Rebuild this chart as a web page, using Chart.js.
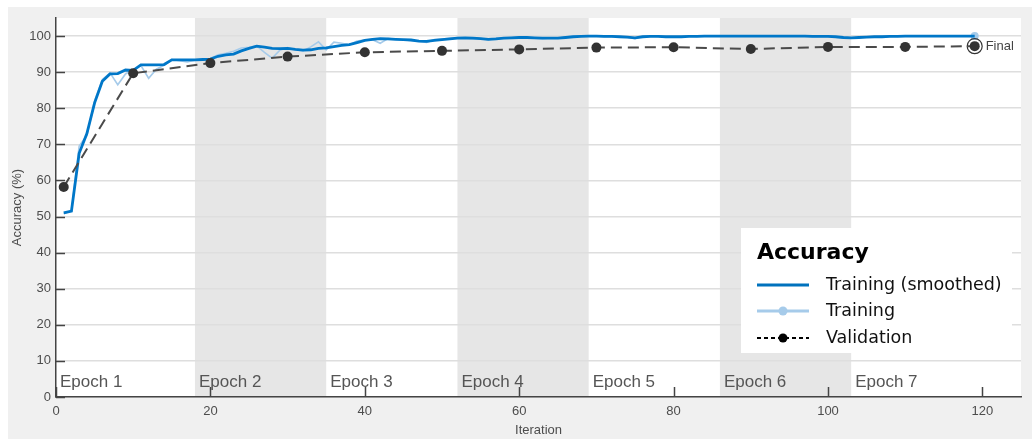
<!DOCTYPE html>
<html>
<head>
<meta charset="utf-8">
<script src="https://cdn.jsdelivr.net/npm/chart.js"></script>
<style>
  html, body { margin: 0; padding: 0; background: #fff; }
  #wrap { width: 1032px; height: 439px; }
</style>
</head>
<body>
<div id="wrap"><canvas id="accChart" width="1032" height="439"></canvas></div>
<script>
// training accuracy, one value per iteration (1..119)
const smoothed = [
  51.0, 51.5, 67.5, 73.0, 81.5, 87.5, 89.5, 89.6, 90.6, 90.5,
  92.0, 92.0, 92.0, 92.1, 93.4, 93.4, 93.4, 93.4, 93.5, 93.6,
  94.4, 94.8, 95.0, 95.9, 96.6, 97.2, 96.9, 96.6, 96.5, 96.6,
  96.3, 96.1, 96.2, 96.6, 96.7, 97.1, 97.4, 97.6, 98.2, 98.8,
  99.1, 99.3, 99.2, 99.1, 99.0, 98.9, 98.6, 98.5, 98.8, 99.0,
  99.2, 99.4, 99.5, 99.4, 99.3, 99.1, 99.2, 99.4, 99.5, 99.6,
  99.6, 99.5, 99.4, 99.4, 99.4, 99.6, 99.8, 99.9, 100, 100,
  99.9, 99.9, 99.8, 99.7, 99.5, 99.8, 99.9, 99.9, 99.8, 99.8,
  99.8, 99.9, 99.9, 100, 100, 100, 100, 100, 100, 100,
  100, 100, 100, 100, 100, 100, 100, 99.9, 99.9, 99.9,
  99.8, 99.6, 99.5, 99.6, 99.7, 99.8, 99.8, 99.9, 99.9, 100,
  100, 100, 100, 100, 100, 100, 100, 100, 100
];
const training = [
  50.8, 51.6, 69.5, 72.5, 82.0, 88.0, 89.8, 86.5, 89.5, 90.7,
  91.8, 88.3, 90.8, 91.9, 93.5, 93.2, 92.8, 93.3, 93.4, 93.8,
  94.8, 95.2, 95.8, 96.7, 96.9, 97.3, 95.5, 93.9, 96.1, 96.8,
  96.2, 95.9, 97.0, 98.4, 96.2, 98.3, 98.0, 97.6, 98.6, 98.9,
  99.0, 98.0, 99.3, 99.2, 98.9, 98.8, 98.6, 98.2, 99.0, 99.2,
  99.4, 99.6, 99.5, 99.2, 99.3, 99.0, 99.4, 99.5, 99.6, 99.7,
  99.6, 99.4, 99.3, 99.5, 99.4, 99.7, 99.9, 100, 100, 100,
  99.8, 99.9, 99.7, 99.6, 99.3, 99.9, 100, 99.9, 99.7, 99.8,
  99.8, 100, 99.9, 100, 100, 100, 100, 100, 100, 100,
  100, 100, 100, 100, 100, 100, 100, 99.8, 99.9, 99.9,
  99.7, 99.5, 99.4, 99.7, 99.8, 99.8, 99.9, 99.9, 100, 100,
  100, 100, 100, 100, 100, 100, 100, 100, 100
];
const iterations = training.map((v, i) => i + 1);

const valIterations = [1, 10, 20, 30, 40, 50, 60, 70, 80, 90, 100, 110, 119];
const validation = [58.2, 89.7, 92.5, 94.3, 95.5, 95.9, 96.3, 96.8, 96.9, 96.4, 97.0, 97.0, 97.2];

const epochLabels = ['Epoch 1', 'Epoch 2', 'Epoch 3', 'Epoch 4', 'Epoch 5', 'Epoch 6', 'Epoch 7'];
const epochStarts = [0, 18, 35, 52, 69, 86, 103];
const epochEnds = [18, 35, 52, 69, 86, 103, 125];

const xTicks = [0, 20, 40, 60, 80, 100, 120];
const yTicks = [0, 10, 20, 30, 40, 50, 60, 70, 80, 90, 100];

const legendItems = ['Training (smoothed)', 'Training', 'Validation'];

const toXY = (xs, ys) => ys.map((y, i) => ({ x: xs[i], y: y }));
const lastVal = valIterations.length - 1;

// figure background, white axes and shaded epochs
const backdrop = {
  id: 'backdrop',
  beforeDraw(chart) {
    const { ctx, chartArea: a, scales: { x } } = chart;
    ctx.save();
    ctx.fillStyle = '#ffffff';
    ctx.fillRect(0, 0, chart.width, chart.height);
    ctx.fillStyle = '#f0f0f0';
    ctx.fillRect(8, 7, chart.width - 8, chart.height - 7);
    ctx.fillStyle = '#ffffff';
    ctx.fillRect(a.left, a.top, a.right - a.left, a.bottom - a.top);
    ctx.fillStyle = '#e6e6e6';
    epochStarts.forEach((s, i) => {
      if (i % 2 === 1) {
        const x0 = x.getPixelForValue(s), x1 = x.getPixelForValue(epochEnds[i]);
        ctx.fillRect(x0, a.top, x1 - x0, a.bottom - a.top);
      }
    });
    ctx.restore();
  },
  beforeDatasetsDraw(chart) {
    const { ctx, chartArea: a, scales: { x } } = chart;
    ctx.save();
    ctx.font = '17px "Liberation Sans", Arial, sans-serif';
    ctx.fillStyle = '#555555';
    ctx.textBaseline = 'alphabetic';
    epochLabels.forEach((t, i) => {
      ctx.fillText(t, Math.max(a.left, x.getPixelForValue(epochStarts[i])) + 4, a.bottom - 10);
    });
    ctx.restore();
  }
};

// inward ticks, "Final" label and legend box
const extras = {
  id: 'extras',
  afterDraw(chart) {
    const { ctx, chartArea: a, scales: { x, y } } = chart;
    ctx.save();
    ctx.strokeStyle = '#444444';
    ctx.lineWidth = 1.5;
    ctx.beginPath();
    yTicks.forEach(v => {
      const py = Math.round(y.getPixelForValue(v)) + 0.5;
      ctx.moveTo(a.left, py); ctx.lineTo(a.left + 9, py);
    });
    xTicks.forEach(v => {
      const px = Math.round(x.getPixelForValue(v)) + 0.5;
      ctx.moveTo(px, a.bottom); ctx.lineTo(px, a.bottom - 10);
    });
    ctx.stroke();

    // Final label
    const fx = x.getPixelForValue(valIterations[lastVal]);
    const fy = y.getPixelForValue(validation[lastVal]);
    ctx.font = '13px "Liberation Sans", Arial, sans-serif';
    ctx.fillStyle = '#444444';
    ctx.textBaseline = 'middle';
    ctx.fillText('Final', fx + 11, fy);

    // legend
    const bx = 741, by = 228, bw = 271, bh = 125;
    ctx.fillStyle = '#ffffff';
    ctx.fillRect(bx, by, bw, bh);
    ctx.fillStyle = '#000000';
    ctx.textBaseline = 'alphabetic';
    ctx.font = 'bold 22px "DejaVu Sans", sans-serif';
    ctx.fillText('Accuracy', 757, 259);

    const rows = [285, 311, 338];
    const lx0 = 757, lx1 = 809, lxm = 783;
    ctx.lineCap = 'butt';
    // smoothed
    ctx.strokeStyle = '#0072bd'; ctx.lineWidth = 3; ctx.setLineDash([]);
    ctx.beginPath(); ctx.moveTo(lx0, rows[0]); ctx.lineTo(lx1, rows[0]); ctx.stroke();
    // training
    ctx.strokeStyle = '#a6cbea';
    ctx.beginPath(); ctx.moveTo(lx0, rows[1]); ctx.lineTo(lx1, rows[1]); ctx.stroke();
    ctx.fillStyle = '#a6cbea';
    ctx.beginPath(); ctx.arc(lxm, rows[1], 4.5, 0, Math.PI * 2); ctx.fill();
    // validation
    ctx.strokeStyle = '#000000'; ctx.lineWidth = 2; ctx.setLineDash([4, 3]);
    ctx.beginPath(); ctx.moveTo(lx0, rows[2]); ctx.lineTo(lx1, rows[2]); ctx.stroke();
    ctx.setLineDash([]);
    ctx.fillStyle = '#000000';
    ctx.beginPath(); ctx.arc(lxm, rows[2], 4.5, 0, Math.PI * 2); ctx.fill();

    ctx.font = '17.5px "DejaVu Sans", sans-serif';
    ctx.fillStyle = '#111111';
    ctx.textBaseline = 'middle';
    legendItems.forEach((t, i) => ctx.fillText(t, 826, rows[i]));
    ctx.restore();
  }
};

const tickFont = { family: '"Liberation Sans", Arial, sans-serif', size: 13 };

new Chart(document.getElementById('accChart'), {
  type: 'line',
  data: {
    datasets: [
      {
        label: 'Final',
        data: [{ x: valIterations[lastVal], y: validation[lastVal] }],
        showLine: false,
        pointRadius: 7.5,
        pointBackgroundColor: 'rgba(0,0,0,0)',
        pointBorderColor: '#333333',
        pointBorderWidth: 1.2,
        order: 0
      },
      {
        label: 'Validation',
        data: toXY(valIterations, validation),
        borderColor: '#4a4a4a',
        borderWidth: 2,
        borderDash: [11, 6],
        pointRadius: 5,
        pointBackgroundColor: '#333333',
        pointBorderWidth: 0,
        tension: 0,
        order: 1
      },
      {
        label: 'Training (smoothed)',
        data: toXY(iterations, smoothed),
        borderColor: '#0077c8',
        borderWidth: 2.8,
        pointRadius: 0,
        tension: 0,
        order: 2
      },
      {
        label: 'Training',
        data: toXY(iterations, training),
        borderColor: '#a6cbea',
        borderWidth: 1.6,
        pointRadius: c => (c.dataIndex === training.length - 1 ? 4 : 0),
        pointBackgroundColor: '#a6cbea',
        pointBorderWidth: 0,
        tension: 0,
        order: 3
      }
    ]
  },
  options: {
    responsive: false,
    animation: false,
    devicePixelRatio: 1,
    layout: { padding: { left: 8, top: 18, right: 11, bottom: 0 } },
    plugins: { legend: { display: false }, tooltip: { enabled: false } },
    scales: {
      x: {
        type: 'linear',
        min: 0,
        max: 125,
        afterFit: s => { s.height = 42; },
        ticks: { stepSize: 20, includeBounds: false, color: '#4d4d4d', font: tickFont, padding: 7, maxRotation: 0 },
        grid: { drawOnChartArea: false, drawTicks: false },
        border: { color: '#444444', width: 1.5 },
        title: { display: true, text: 'Iteration', color: '#4d4d4d', font: tickFont, padding: { top: 0, bottom: 1 } }
      },
      y: {
        min: 0,
        max: 105,
        afterFit: s => { s.width = 48; },
        ticks: { stepSize: 10, includeBounds: false, color: '#4d4d4d', font: tickFont, padding: 5 },
        grid: { color: '#dedede', lineWidth: 1.5, drawTicks: false },
        border: { color: '#444444', width: 1.5 },
        title: { display: true, text: 'Accuracy (%)', color: '#4d4d4d', font: tickFont, padding: { top: 2, bottom: 0 } }
      }
    }
  },
  plugins: [backdrop, extras]
});
</script>
</body>
</html>
